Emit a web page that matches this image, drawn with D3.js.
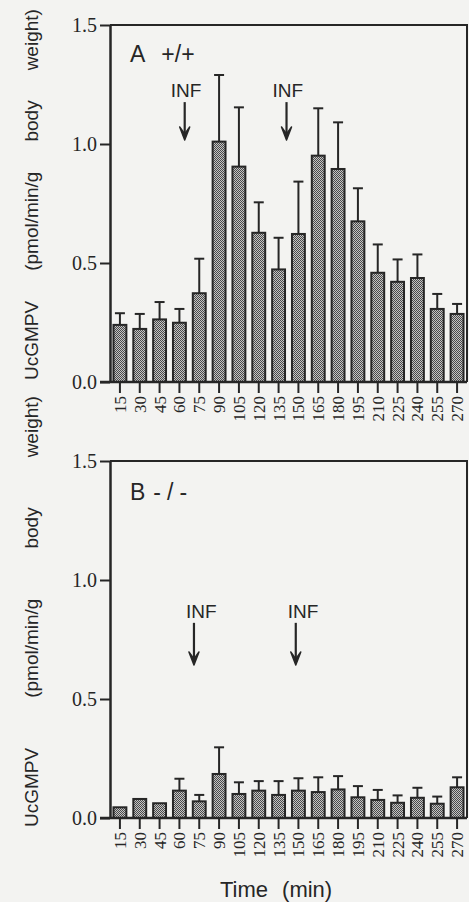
<!DOCTYPE html>
<html>
<head>
<meta charset="utf-8">
<script src="https://cdn.jsdelivr.net/npm/d3@7"></script>
<style>
  body { margin: 0; background: #f3f3f1; }
  svg { display: block; }
</style>
</head>
<body>
<svg width="469" height="902"></svg>
<script>
// time points (min)
var times = [15, 30, 45, 60, 75, 90, 105, 120, 135, 150, 165, 180, 195, 210, 225, 240, 255, 270];

// panel A, +/+
var meanA = [0.24, 0.223, 0.263, 0.249, 0.373, 1.01, 0.905, 0.627, 0.473, 0.622, 0.951, 0.895, 0.675, 0.459, 0.421, 0.437, 0.307, 0.286];
var semA  = [0.049, 0.063, 0.073, 0.058, 0.145, 0.28, 0.249, 0.128, 0.133, 0.22, 0.199, 0.196, 0.139, 0.119, 0.094, 0.099, 0.063, 0.042];
var infA  = [64, 141];

// panel B, -/-
var meanB = [0.045, 0.08, 0.062, 0.115, 0.07, 0.185, 0.101, 0.115, 0.097, 0.115, 0.109, 0.12, 0.087, 0.076, 0.064, 0.085, 0.06, 0.129];
var semB  = [null, null, null, 0.05, 0.027, 0.112, 0.049, 0.04, 0.058, 0.052, 0.062, 0.056, 0.047, 0.042, 0.031, 0.042, 0.03, 0.042];
var infB  = [71, 148];

var yTicks = [0, 0.5, 1.0, 1.5];
var titleWords = ["UcGMPV", "(pmol/min/g", "body", "weight)"];

var ink = "#262626";
var svg = d3.select("svg");

// stipple fill of the bars
var pat = svg.append("defs").append("pattern")
    .attr("id", "stip")
    .attr("patternUnits", "userSpaceOnUse")
    .attr("width", 2).attr("height", 2);
pat.append("rect").attr("width", 2).attr("height", 2).attr("fill", "#c4c4c4");
pat.append("rect").attr("width", 1).attr("height", 1).attr("fill", "#4a4a4a");
pat.append("rect").attr("x", 1).attr("y", 1).attr("width", 1).attr("height", 1).attr("fill", "#4a4a4a");

var left = 110, right = 467;

var x = d3.scaleBand().domain(times).range([left, right]).paddingInner(0.35).paddingOuter(0.175);
var tx = d3.scaleLinear().domain([7.5, 277.5]).range([left, right]);

function panel(opt) {
  var y = d3.scaleLinear().domain([0, 1.5]).range([opt.bottom, opt.bottom - 357]);
  var g = svg.append("g");

  var data = times.map(function(t, i) { return {t: t, m: opt.mean[i], s: opt.sem[i]}; });

  // error bars
  var eb = g.selectAll(".err").data(data.filter(function(d) { return d.s != null; }))
    .enter().append("g").attr("class", "err")
    .attr("stroke", ink).attr("stroke-width", 2);
  eb.append("line")
    .attr("x1", function(d) { return x(d.t) + x.bandwidth() / 2; })
    .attr("x2", function(d) { return x(d.t) + x.bandwidth() / 2; })
    .attr("y1", function(d) { return y(d.m); })
    .attr("y2", function(d) { return y(d.m + d.s); });
  eb.append("line")
    .attr("x1", function(d) { return x(d.t) + x.bandwidth() / 2 - 5; })
    .attr("x2", function(d) { return x(d.t) + x.bandwidth() / 2 + 5; })
    .attr("y1", function(d) { return y(d.m + d.s); })
    .attr("y2", function(d) { return y(d.m + d.s); });

  g.selectAll(".bar").data(data)
    .enter().append("rect")
      .attr("class", "bar")
      .attr("x", function(d) { return x(d.t); })
      .attr("y", function(d) { return y(d.m); })
      .attr("width", x.bandwidth())
      .attr("height", function(d) { return y(0) - y(d.m); })
      .attr("fill", "url(#stip)")
      .attr("stroke", ink)
      .attr("stroke-width", 2);

  // frame
  g.append("path")
    .attr("d", "M" + left + "," + y(1.5) + "H" + right + "V" + y(0))
    .attr("fill", "none").attr("stroke", ink).attr("stroke-width", 2);

  var ya = g.append("g")
    .attr("transform", "translate(" + left + ",0)")
    .call(d3.axisLeft(y).tickValues(yTicks).tickFormat(d3.format(".1f")).tickSize(10).tickSizeOuter(0).tickPadding(3));
  ya.select(".domain").attr("stroke", ink).attr("stroke-width", 2.5);
  ya.selectAll(".tick line").attr("stroke", ink).attr("stroke-width", 2);
  ya.selectAll(".tick text")
    .attr("fill", ink)
    .style("font-family", "'Liberation Serif', serif")
    .style("font-size", "20px");

  var xa = g.append("g")
    .attr("transform", "translate(0," + y(0) + ")")
    .call(d3.axisBottom(x).tickSize(11).tickSizeOuter(0));
  xa.select(".domain").attr("d", "M100,0H" + right).attr("stroke", ink).attr("stroke-width", 2.5);
  xa.selectAll(".tick line").attr("stroke", ink).attr("stroke-width", 2);
  xa.selectAll(".tick text")
    .attr("fill", ink)
    .attr("transform", "rotate(-90)")
    .attr("x", -14).attr("y", 0).attr("dy", "0.35em")
    .attr("text-anchor", "end")
    .style("font-family", "'Liberation Serif', serif")
    .style("font-size", "17px");

  // y title
  var ttl = g.append("text")
    .attr("transform", "translate(38," + opt.titleBottom + ") rotate(-90)")
    .attr("fill", ink)
    .style("font-family", "'Liberation Sans', Arial, sans-serif")
    .style("font-size", "19px");
  titleWords.forEach(function(w, i) {
    ttl.append("tspan").attr("dx", i ? opt.titleGap : 0).text(w);
  });

  // panel label
  var lab = g.append("text")
    .attr("x", 130).attr("y", y(opt.labelY))
    .attr("fill", ink)
    .style("font-family", "'Liberation Sans', Arial, sans-serif")
    .style("font-size", "23px");
  opt.label.forEach(function(p) {
    lab.append("tspan").attr("dx", p[0]).text(p[1]);
  });

  // infusion arrows
  opt.inf.forEach(function(t) {
    var ax = tx(t);
    g.append("text")
      .attr("x", ax + opt.infDx).attr("y", y(opt.infText))
      .attr("fill", ink)
      .style("font-family", "'Liberation Sans', Arial, sans-serif")
      .style("font-size", "19px")
      .text("INF");
    g.append("line")
      .attr("x1", ax).attr("x2", ax)
      .attr("y1", y(opt.arrowTop)).attr("y2", y(opt.arrowBot) - 3)
      .attr("stroke", ink).attr("stroke-width", 2.2);
    g.append("path")
      .attr("d", "M" + (ax - 5) + "," + (y(opt.arrowBot) - 13) + "L" + ax + "," + y(opt.arrowBot) + "L" + (ax + 5) + "," + (y(opt.arrowBot) - 13) + "L" + ax + "," + (y(opt.arrowBot) - 6) + "Z")
      .attr("fill", ink).attr("stroke", ink).attr("stroke-width", 1.5).attr("stroke-linejoin", "round");
  });
}

panel({
  bottom: 382, mean: meanA, sem: semA, inf: infA,
  titleBottom: 380, titleGap: 30,
  label: [[0, "A"], [16, "+/+"]], labelY: 1.344,
  infText: 1.197, arrowTop: 1.176, arrowBot: 1.017, infDx: -14
});

panel({
  bottom: 818, mean: meanB, sem: semB, inf: infB,
  titleBottom: 827, titleGap: 50,
  label: [[0, "B"], [8, "-"], [6, "/"], [6, "-"]], labelY: 1.336,
  infText: 0.84, arrowTop: 0.82, arrowBot: 0.643, infDx: -8
});

// x title
svg.append("text")
  .attr("x", 220).attr("y", 897)
  .attr("fill", ink)
  .style("font-family", "'Liberation Sans', Arial, sans-serif")
  .style("font-size", "22px")
  .call(function(t) {
    t.append("tspan").text("Time");
    t.append("tspan").attr("dx", 14).text("(min)");
  });
</script>
</body>
</html>
